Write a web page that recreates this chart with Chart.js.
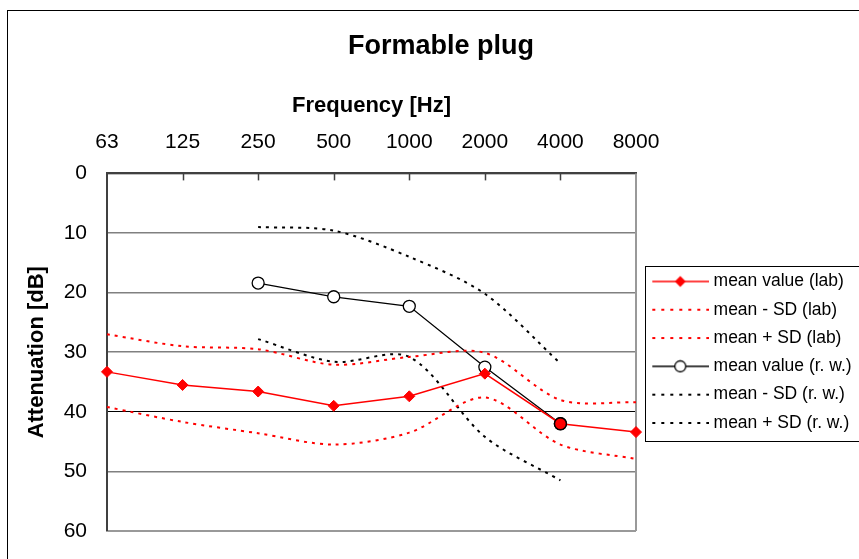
<!DOCTYPE html>
<html><head><meta charset="utf-8">
<script src="https://cdn.jsdelivr.net/npm/chart.js@4/dist/chart.umd.min.js"></script>
<style>html,body{margin:0;padding:0;background:#fff;overflow:hidden}
#wrap{position:relative;width:882px;height:559px}</style></head>
<body><div id="wrap"><canvas id="c"></canvas></div>
<script>
const frequencies = ['63','125','250','500','1000','2000','4000','8000'];
const labMean    = [33.3, 35.5, 36.6, 39.0, 37.4, 33.6, 42.0, 43.4];
const labMinusSD = [27.0, 29.0, 29.5, 32.1, 30.8, 30.1, 38.0, 38.4];
const labPlusSD  = [39.2, 41.7, 43.6, 45.5, 43.5, 37.6, 45.5, 47.9];
const rwMean     = [null, null, 18.4, 20.7, 22.3, 32.5, 42.0, null];
const rwMinusSD  = [null, null, 9.0, 9.6, 14.0, 20.2, 31.9, null];
const rwPlusSD   = [null, null, 27.8, 31.6, 30.8, 44.2, 51.5, null];
const yTicks = [0, 10, 20, 30, 40, 50, 60];
const seriesNames = ['mean value (lab)','mean - SD (lab)','mean + SD (lab)','mean value (r. w.)','mean - SD (r. w.)','mean + SD (r. w.)'];

const FONT = "'Liberation Sans', Arial, sans-serif";
const RED = '#ff0000';
const LEGEND_W = 230;

function sample(color, dotted, marker) {
  const c = document.createElement('canvas');
  c.width = 67; c.height = 14;
  const x = c.getContext('2d');
  const o = 9;
  x.strokeStyle = color;
  x.lineWidth = dotted ? 2 : 1.5;
  if (dotted) x.setLineDash([3, 6]);
  x.beginPath(); x.moveTo(o + 1, 7); x.lineTo(o + 58, 7); x.stroke();
  x.setLineDash([]);
  if (marker === 'diamond') {
    x.fillStyle = RED;
    x.beginPath(); x.moveTo(o + 29, 1.5); x.lineTo(o + 34.5, 7); x.lineTo(o + 29, 12.5); x.lineTo(o + 23.5, 7); x.closePath(); x.fill();
  } else if (marker === 'circle') {
    x.fillStyle = '#fff'; x.strokeStyle = '#000'; x.lineWidth = 1.3;
    x.beginPath(); x.arc(o + 29, 7, 5.5, 0, Math.PI * 2); x.fill(); x.stroke();
  }
  return c;
}
const samples = [
  sample(RED, false, 'diamond'), sample(RED, true), sample(RED, true),
  sample('#000', false, 'circle'), sample('#000', true), sample('#000', true)
];

const frame = {
  id: 'frame',
  beforeLayout(chart) {
    const lg = chart.legend;
    if (lg && !lg.__patched) {
      const up = lg.update;
      lg.update = function (mw, mh, m) { up.call(this, LEGEND_W, mh, m); this.width = LEGEND_W; };
      lg.__patched = true;
    }
  },
  beforeDatasetsDraw(chart) {
    const ctx = chart.ctx, a = chart.chartArea, xs = chart.scales.x;
    ctx.save();
    ctx.strokeStyle = '#999'; ctx.lineWidth = 2;
    ctx.beginPath(); ctx.moveTo(a.right, a.top); ctx.lineTo(a.right, a.bottom); ctx.stroke();
    ctx.strokeStyle = '#404040'; ctx.lineWidth = 1.5;
    for (let i = 1; i < frequencies.length - 1; i++) {
      const px = Math.round(xs.getPixelForValue(i)) + 0.5;
      ctx.beginPath(); ctx.moveTo(px, a.top); ctx.lineTo(px, a.top + 7); ctx.stroke();
    }
    ctx.restore();
  },
  afterDraw(chart) {
    const ctx = chart.ctx;
    ctx.save();
    const hb = chart.legend.legendHitBoxes;
    if (hb && hb.length) {
      const top = hb[0].top - 6.5, bot = hb[hb.length - 1].top + hb[hb.length - 1].height + 9;
      const left = hb[0].left - 2;
      ctx.strokeStyle = '#000'; ctx.lineWidth = 1;
      ctx.strokeRect(Math.round(left) + 0.5, Math.round(top) + 0.5, 300, Math.round(bot - top));
    }
    ctx.strokeStyle = '#000'; ctx.lineWidth = 1;
    ctx.strokeRect(7.5, 10.5, 1000, 1000);
    ctx.restore();
  }
};

const dotted = { borderWidth: 2, borderDash: [3, 5], pointRadius: 0, tension: 0.3, fill: false };

new Chart(document.getElementById('c'), {
  type: 'line',
  data: {
    labels: frequencies,
    datasets: [
      { label: seriesNames[0], data: labMean, borderColor: RED, borderWidth: 1.5,
        pointStyle: labMean.map((v, i) => i === 6 ? 'circle' : 'rectRot'),
        pointRadius: labMean.map((v, i) => i === 6 ? 6 : 5.5),
        pointBackgroundColor: RED,
        pointBorderColor: labMean.map((v, i) => i === 6 ? '#000' : RED),
        pointBorderWidth: labMean.map((v, i) => i === 6 ? 1.5 : 1),
        tension: 0, clip: false },
      { label: seriesNames[1], data: labMinusSD, borderColor: RED, ...dotted },
      { label: seriesNames[2], data: labPlusSD, borderColor: RED, ...dotted },
      { label: seriesNames[3], data: rwMean, borderColor: '#000', borderWidth: 1.3,
        pointStyle: 'circle', pointRadius: 6, pointBackgroundColor: '#fff',
        pointBorderColor: '#000', pointBorderWidth: 1.3, tension: 0 },
      { label: seriesNames[4], data: rwMinusSD, borderColor: '#000', ...dotted },
      { label: seriesNames[5], data: rwPlusSD, borderColor: '#000', ...dotted }
    ]
  },
  options: {
    responsive: true, maintainAspectRatio: false, animation: false,
    layout: { padding: { top: 0, left: 16, right: 16, bottom: 28 } },
    plugins: {
      tooltip: { enabled: false },
      title: { display: true, text: 'Formable plug', color: '#000',
        font: { family: FONT, size: 27, weight: 'bold' }, padding: { top: 30, bottom: 4 } },
      legend: {
        position: 'right', fullSize: false,
        labels: {
          usePointStyle: true, pointStyleWidth: 58, padding: 10.8, color: '#000',
          font: { family: FONT, size: 17.5 },
          generateLabels: () => seriesNames.map((t, i) => ({
            text: t, pointStyle: samples[i], fillStyle: 'transparent', strokeStyle: 'transparent',
            lineWidth: 0, hidden: false, datasetIndex: i, fontColor: '#000'
          }))
        }
      }
    },
    scales: {
      x: {
        position: 'top', offset: false,
        grid: { display: false, drawTicks: false },
        border: { display: true, color: '#404040', width: 2 },
        ticks: { color: '#000', font: { family: FONT, size: 21 }, padding: 19, maxRotation: 0, autoSkip: false },
        title: { display: true, text: 'Frequency [Hz]', color: '#000',
          font: { family: FONT, size: 22, weight: 'bold' }, padding: { top: 26, bottom: 10 } },
        afterFit: s => { s.height = 107; }
      },
      y: {
        reverse: true, min: 0, max: 60,
        afterBuildTicks: s => { s.ticks = yTicks.map(v => ({ value: v })); },
        grid: { drawTicks: false,
          color: c => c.tick.value === 40 ? '#000' : (c.tick.value === 60 ? '#999' : '#808080'),
          lineWidth: c => c.tick.value === 40 ? 1 : (c.tick.value === 60 ? 2 : 1.5) },
        border: { display: true, color: '#404040', width: 2 },
        ticks: { color: '#000', font: { family: FONT, size: 21 }, padding: 20 },
        title: { display: true, text: 'Attenuation [dB]', color: '#000',
          font: { family: FONT, size: 22, weight: 'bold' }, padding: { top: 8, bottom: 10 } },
        afterFit: s => { s.width = 91; s.paddingTop = 12; s.paddingBottom = 12; }
      }
    }
  },
  plugins: [frame]
});
</script>
</body></html>
